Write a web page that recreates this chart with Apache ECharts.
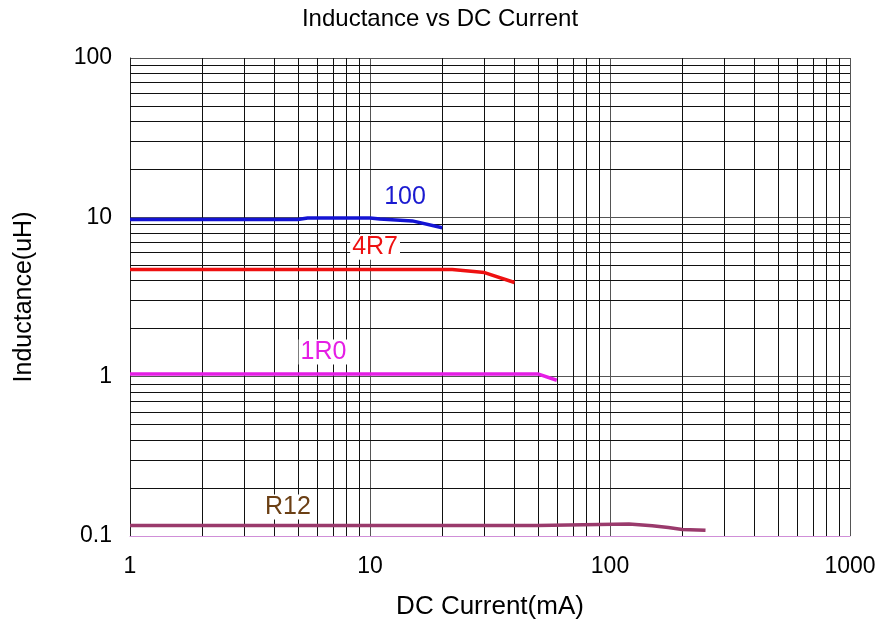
<!DOCTYPE html>
<html>
<head>
<meta charset="utf-8">
<script src="https://cdn.jsdelivr.net/npm/echarts@6/dist/echarts.min.js"></script>
<style>html,body{margin:0;padding:0;background:#fff;}#c{width:880px;height:628px;}</style>
</head>
<body>
<div id="c"></div>
<script>
var titleText = 'Inductance vs DC Current';
var xName = 'DC Current(mA)';
var yName = 'Inductance(uH)';
var xTicks = [1, 10, 100, 1000];
var yTicks = [0.1, 1, 10, 100];

var s100 = [[1, 9.7], [5, 9.7], [5.5, 9.9], [10, 9.9], [11, 9.75], [15, 9.5], [20, 8.6]];
var s4R7 = [[1, 4.7], [22, 4.7], [30, 4.5], [40, 3.9]];
var s1R0 = [[1, 1.04], [50, 1.04], [60, 0.95]];
var sR12 = [[1, 0.1165], [50, 0.1165], [50.2, 0.1188], [120, 0.1188], [150, 0.116], [175, 0.113], [200, 0.110], [250, 0.1085]];

var names = ['100', '4R7', '1R0', 'R12'];
var colors = ['#1414d4', '#ee1111', '#e51ee5', '#9a3a6c'];
var labelColors = ['#1a1ad0', '#ee1111', '#e51ee5', '#6b3f14'];
var labelPos = [[14, 13.4], [10.5, 6.5], [6.4, 1.43], [4.55, 0.152]];

var minorX = [2,3,4,5,6,7,8,9,20,30,40,50,60,70,80,90,200,300,400,500,600,700,800,900];
var minorY = [0.2,0.3,0.4,0.5,0.6,0.7,0.8,0.9,2,3,4,5,6,7,8,9,20,30,40,50,60,70,80,90];

var font = 'Liberation Sans, Arial, sans-serif';
var dataSets = [s100, s4R7, s1R0, sR12];

var series = [];
var ml = [];
minorX.forEach(function (v) { ml.push({ xAxis: v }); });
minorY.forEach(function (v) { ml.push({ yAxis: v }); });
series.push({
  type: 'line', data: [], silent: true, z: 1,
  markLine: { silent: true, symbol: ['none', 'none'], label: { show: false },
    lineStyle: { color: '#111', width: 1, type: 'solid' }, animation: false, data: ml }
});
dataSets.forEach(function (d, i) {
  series.push({ type: 'line', name: names[i], data: d, showSymbol: false, symbol: 'none', z: 5,
    lineStyle: { color: colors[i], width: 3.5 }, animation: false });
});
labelPos.forEach(function (p, i) {
  series.push({ type: 'scatter', data: [{ value: p, name: names[i] }], symbolSize: 0, z: 6,
    itemStyle: { opacity: 1 },
    label: { show: true, position: 'inside', formatter: names[i], color: labelColors[i],
      fontFamily: font, fontSize: 25, backgroundColor: '#fff', padding: [0, 2] }, animation: false });
});

var chart = echarts.init(document.getElementById('c'));
chart.setOption({
  backgroundColor: '#fff',
  animation: false,
  title: { text: titleText, left: 'center', top: 2,
    textStyle: { fontFamily: font, fontWeight: 'normal', fontSize: 24, color: '#000' } },
  grid: { left: 130, right: 30, top: 58, bottom: 92 },
  xAxis: {
    type: 'log', logBase: 10, min: 1, max: 1000,
    name: xName, nameLocation: 'middle', nameGap: 58,
    nameTextStyle: { fontFamily: font, fontSize: 26, color: '#000' },
    axisLine: { show: true, lineStyle: { color: '#d08fd8', width: 1 } },
    axisTick: { show: false },
    axisLabel: { fontFamily: font, fontSize: 23, color: '#000', margin: 19,
      formatter: function (v) { return xTicks.indexOf(v) >= 0 ? String(v) : ''; } },
    splitLine: { show: true, lineStyle: { color: '#555', width: 1 } }
  },
  yAxis: {
    type: 'log', logBase: 10, min: 0.1, max: 100,
    name: yName, nameLocation: 'middle', nameGap: 93, nameRotate: 90,
    nameTextStyle: { fontFamily: font, fontSize: 25, color: '#000' },
    axisLine: { show: true, lineStyle: { color: '#222', width: 1 } },
    axisTick: { show: false },
    axisLabel: { fontFamily: font, fontSize: 23, color: '#000', margin: 18,
      formatter: function (v) { var r = Math.round(v * 10) / 10; return yTicks.indexOf(r) >= 0 ? String(r) : ''; } },
    splitLine: { show: true, lineStyle: { color: '#555', width: 1 } }
  },
  series: series
});
</script>
</body>
</html>
